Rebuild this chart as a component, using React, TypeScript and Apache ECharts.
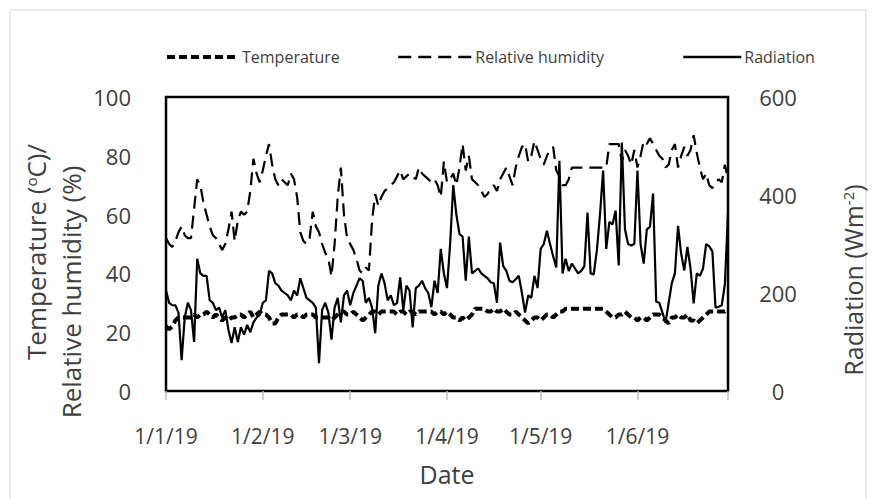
import React, { useEffect, useRef } from "react";
import * as echarts from "echarts";

// Daily dates 1/1/19 .. 30/6/19 (d/m/yy)
const dayLabels: string[] = Array.from({ length: 181 }, (_, i) => {
  const d = new Date(Date.UTC(2019, 0, 1 + i));
  return `${d.getUTCDate()}/${d.getUTCMonth() + 1}/19`;
});

const monthTickLabels = ["1/1/19", "1/2/19", "1/3/19", "1/4/19", "1/5/19", "1/6/19"];

// Daily mean air temperature (°C)
const temperature = [
  22, 21, 22, 24, 25, 25, 25, 25, 25, 26,
  25, 26, 26, 27, 26, 25, 26, 25, 24, 25,
  24, 25, 25, 26, 26, 25, 26, 27, 25, 26,
  27, 26, 26, 25, 23, 23, 25, 26, 26, 26,
  26, 25, 26, 26, 25, 26, 26, 26, 25, 25,
  25, 25, 25, 24, 25, 26, 27, 27, 26, 26,
  27, 26, 25, 24, 25, 26, 27, 27, 26, 27,
  27, 27, 27, 27, 26, 27, 27, 26, 27, 27,
  26, 27, 27, 27, 27, 27, 26, 27, 27, 26,
  27, 26, 25, 25, 24, 25, 24, 25, 26, 28,
  28, 28, 28, 27, 27, 28, 27, 27, 28, 27,
  26, 26, 27, 26, 25, 24, 23, 24, 25, 25,
  24, 25, 26, 26, 25, 26, 27, 27, 28, 28,
  28, 28, 28, 28, 28, 28, 28, 28, 28, 28,
  28, 27, 26, 25, 25, 26, 26, 27, 26, 25,
  25, 24, 25, 25, 24, 25, 26, 26, 26, 25,
  24, 23, 25, 25, 26, 25, 25, 26, 24, 24,
  23, 24, 25, 26, 27, 27, 27, 27, 27, 27,
  28,
];

// Daily mean relative humidity (%)
const humidity = [
  52, 50, 49, 51, 54, 56, 53, 52, 52, 62,
  72, 70, 64, 60, 56, 53, 52, 50, 48, 50,
  55, 61, 51, 58, 61, 60, 61, 68, 79, 74,
  71, 75, 80, 84, 77, 72, 70, 72, 71, 70,
  74, 72, 66, 54, 51, 50, 52, 61, 56, 54,
  50, 47, 45, 39, 50, 66, 76, 60, 52, 50,
  48, 45, 41, 40, 42, 41, 58, 67, 63, 66,
  68, 69, 70, 71, 73, 75, 72, 73, 74, 73,
  72, 76, 74, 73, 72, 71, 72, 70, 66, 78,
  71, 72, 74, 70, 76, 84, 75, 80, 72, 71,
  70, 68, 66, 67, 69, 70, 68, 72, 74, 76,
  73, 70, 76, 80, 83, 84, 78, 80, 85, 82,
  79, 77, 80, 82, 83, 75, 73, 70, 70, 72,
  76, 76, 76, 76, 76, 76, 76, 76, 76, 76,
  76, 76, 84, 84, 84, 84, 78, 82, 80, 77,
  82, 76, 80, 85, 84, 86, 84, 82, 80, 79,
  76, 77, 82, 84, 76, 80, 83, 80, 82, 87,
  81, 76, 72, 74, 70, 69, 71, 72, 71, 77,
  72,
];

// Daily mean solar radiation (W m-2)
const radiation = [
  205, 180, 175, 175, 160, 63, 150, 180, 165, 100,
  270, 240, 235, 235, 185, 180, 165, 170, 150, 165,
  125, 98, 130, 100, 130, 115, 135, 120, 140, 150,
  155, 180, 185, 245, 240, 220, 215, 205, 200, 195,
  185, 205, 195, 230, 210, 190, 185, 180, 170, 57,
  165, 180, 160, 105, 170, 190, 140, 195, 205, 175,
  200, 215, 230, 225, 180, 190, 170, 118, 215, 240,
  220, 185, 195, 175, 180, 232, 165, 215, 205, 130,
  210, 215, 225, 210, 200, 171, 225, 200, 290, 240,
  210, 300, 420, 360, 320, 315, 225, 315, 240, 245,
  250, 240, 235, 230, 222, 220, 180, 303, 255, 245,
  225, 222, 228, 235, 200, 160, 195, 190, 235, 210,
  290, 300, 327, 300, 275, 252, 470, 240, 270, 245,
  260, 250, 240, 245, 255, 364, 240, 238, 287, 360,
  450, 290, 345, 340, 368, 256, 507, 330, 300, 297,
  300, 450, 300, 260, 330, 335, 403, 182, 180, 160,
  140, 180, 220, 240, 337, 280, 246, 294, 250, 179,
  240, 235, 250, 300, 295, 285, 170, 172, 175, 218,
  364,
];

const FONT = "'Open Sans', 'Noto Sans', sans-serif";
const TEXT = "#404040";

const legendText = { fontFamily: FONT, fontSize: 16, color: TEXT, padding: [0, 0, 0, -2] };

export default function App() {
  const ref = useRef<HTMLDivElement>(null);

  useEffect(() => {
    if (!ref.current) return;
    const chart = echarts.init(ref.current, undefined, { renderer: "svg" });
    const lastIdx = dayLabels.length - 1;
    const isMonthStart = (i: number) => monthTickLabels.includes(dayLabels[i]);

    chart.setOption({
      animation: false,
      backgroundColor: "#ffffff",
      textStyle: { fontFamily: FONT, color: TEXT },
      grid: {
        left: 166,
        right: 147,
        top: 97,
        bottom: 108,
        show: true,
        borderColor: "#000000",
        borderWidth: 2.5,
        backgroundColor: "transparent",
      },
      legend: [
        {
          data: ["Temperature"],
          left: 160,
          top: 44,
          itemWidth: 72,
          itemHeight: 14,
          itemGap: 4,
          itemStyle: { opacity: 0 },
          lineStyle: { width: 4, type: [8, 4] },
          textStyle: legendText,
        },
        {
          data: ["Relative humidity"],
          left: 392,
          top: 44,
          itemWidth: 74,
          itemHeight: 14,
          itemStyle: { opacity: 0 },
          lineStyle: { width: 2.5, type: [13, 7] },
          textStyle: legendText,
        },
        {
          data: ["Radiation"],
          left: 677,
          top: 44,
          itemWidth: 58,
          itemHeight: 14,
          itemStyle: { opacity: 0 },
          lineStyle: { width: 2.5 },
          textStyle: legendText,
        },
      ],
      xAxis: {
        type: "category",
        data: dayLabels,
        boundaryGap: false,
        name: "Date",
        nameLocation: "middle",
        nameGap: 70,
        nameTextStyle: { fontFamily: FONT, fontSize: 25, color: TEXT },
        axisLine: { show: true, lineStyle: { color: "#000000", width: 2 } },
        axisTick: {
          show: true,
          length: 9,
          interval: (i: number) => isMonthStart(i) || i === lastIdx,
          lineStyle: { color: "#bfbfbf", width: 1.5 },
        },
        axisLabel: {
          interval: (i: number) => isMonthStart(i),
          margin: 34,
          fontFamily: FONT,
          fontSize: 21,
          color: TEXT,
        },
        splitLine: { show: false },
      },
      yAxis: [
        {
          type: "value",
          min: 0,
          max: 100,
          interval: 20,
          axisLine: { show: false },
          axisTick: { show: false },
          splitLine: { show: false },
          axisLabel: { margin: 35, fontFamily: FONT, fontSize: 22, color: TEXT },
        },
        {
          type: "value",
          min: 0,
          max: 600,
          interval: 200,
          axisLine: { show: false },
          axisTick: { show: false },
          splitLine: { show: false },
          axisLabel: { margin: 50, align: "center", fontFamily: FONT, fontSize: 22, color: TEXT },
        },
      ],
      series: [
        {
          name: "Temperature",
          type: "line",
          yAxisIndex: 0,
          data: temperature,
          symbol: "none",
          lineStyle: { color: "#000000", width: 4, type: [8, 4] },
          itemStyle: { color: "#000000" },
          z: 3,
        },
        {
          name: "Relative humidity",
          type: "line",
          yAxisIndex: 0,
          data: humidity,
          symbol: "none",
          lineStyle: { color: "#000000", width: 2.2, type: [13, 7] },
          itemStyle: { color: "#000000" },
          z: 3,
        },
        {
          name: "Radiation",
          type: "line",
          yAxisIndex: 1,
          data: radiation,
          symbol: "none",
          lineStyle: { color: "#000000", width: 2.2, type: "solid" },
          itemStyle: { color: "#000000" },
          z: 4,
        },
      ],
      graphic: [
        {
          type: "rect",
          silent: true,
          shape: { x: 10, y: 10, width: 856, height: 500 },
          style: { fill: "none", stroke: "#d9d9d9", lineWidth: 1 },
          z: -10,
        },
        {
          type: "text",
          x: 36,
          y: 252,
          rotation: Math.PI / 2,
          style: {
            text: "{a|Temperature (}{s|o}{a|C)/}",
            align: "center",
            verticalAlign: "middle",
            fill: TEXT,
            rich: {
              a: { fontFamily: FONT, fontSize: 26, fill: TEXT },
              s: { fontFamily: FONT, fontSize: 15, fill: TEXT, verticalAlign: "top", padding: [0, 0, 10, 0] },
            },
          },
        },
        {
          type: "text",
          x: 71,
          y: 292,
          rotation: Math.PI / 2,
          style: {
            text: "Relative humidity (%)",
            align: "center",
            verticalAlign: "middle",
            fill: TEXT,
            font: `26px ${FONT}`,
          },
        },
        {
          type: "text",
          x: 853,
          y: 280,
          rotation: Math.PI / 2,
          style: {
            text: "{a|Radiation (Wm}{s|-2}{a|)}",
            align: "center",
            verticalAlign: "middle",
            fill: TEXT,
            rich: {
              a: { fontFamily: FONT, fontSize: 25, fill: TEXT },
              s: { fontFamily: FONT, fontSize: 15, fill: TEXT, verticalAlign: "top", padding: [0, 0, 10, 0] },
            },
          },
        },
      ],
    });

    return () => chart.dispose();
  }, []);

  return (
    <div
      ref={ref}
      style={{ position: "fixed", left: 0, top: 0, width: 875, height: 499, background: "#fff" }}
    />
  );
}
